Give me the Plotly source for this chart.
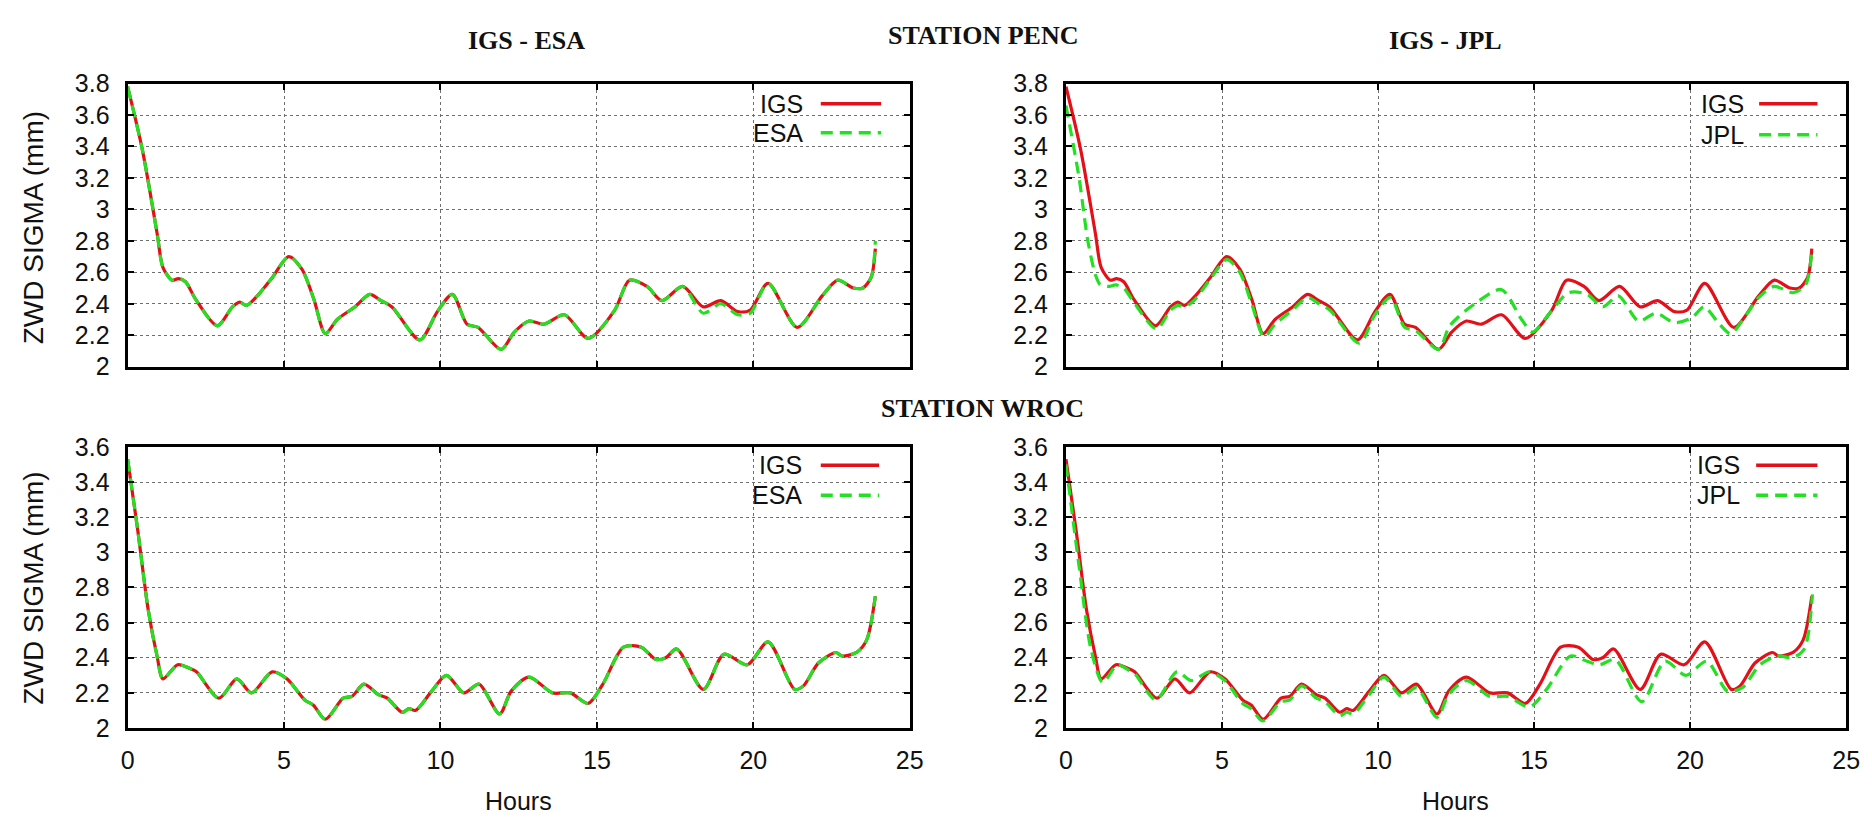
import plotly.graph_objects as go

# ---------------- data ----------------
penc_hours = [0.0, 0.47, 0.94, 1.13, 1.42, 1.62, 1.85, 2.17, 2.87, 3.35, 3.58, 3.8, 4.1, 4.6,
              5.15, 5.57, 5.95, 6.32, 6.7, 7.26, 7.74, 8.1, 8.45, 9.34, 9.9, 10.38, 10.85,
              11.2, 11.94, 12.36, 12.83, 13.3, 13.96, 14.72, 15.57, 16.04, 16.6, 17.08,
              17.74, 18.4, 18.96, 19.5, 19.9, 20.47, 21.4, 22.2, 22.7, 23.2, 23.5, 23.77, 23.9]
penc_igs = [3.78, 3.38, 2.85, 2.63, 2.55, 2.56, 2.54, 2.43, 2.26, 2.38, 2.41, 2.39, 2.44, 2.56,
            2.70, 2.62, 2.43, 2.21, 2.30, 2.38, 2.46, 2.42, 2.38, 2.17, 2.35, 2.46, 2.27,
            2.25, 2.11, 2.22, 2.29, 2.27, 2.33, 2.18, 2.36, 2.55, 2.51, 2.42,
            2.51, 2.38, 2.42, 2.35, 2.36, 2.53, 2.25, 2.45, 2.55, 2.50, 2.50, 2.57, 2.75]
penc_esa = [3.78, 3.38, 2.85, 2.63, 2.55, 2.56, 2.54, 2.43, 2.26, 2.38, 2.41, 2.39, 2.44, 2.56,
            2.70, 2.62, 2.43, 2.21, 2.30, 2.38, 2.46, 2.42, 2.38, 2.17, 2.35, 2.46, 2.27,
            2.25, 2.11, 2.22, 2.29, 2.27, 2.33, 2.18, 2.36, 2.55, 2.51, 2.42,
            2.51, 2.34, 2.40, 2.33, 2.34, 2.53, 2.25, 2.45, 2.55, 2.50, 2.50, 2.57, 2.80]
penc_jpl_hours = [0.0, 0.42, 0.7, 0.95, 1.1, 1.36, 1.6, 1.85, 2.17, 2.9, 3.35, 3.6, 3.8, 4.1,
                  4.6, 5.15, 5.57, 5.95, 6.35, 6.7, 7.26, 7.74, 8.1, 8.45, 9.4, 9.9, 10.4,
                  10.85, 11.2, 11.94, 12.3, 13.1, 13.95, 14.6, 14.95, 15.5, 16.1, 16.7, 17.2,
                  17.7, 18.35, 18.9, 19.5, 20.05, 20.45, 20.9, 21.3, 21.8, 22.2, 22.7, 23.3,
                  23.7, 23.9]
penc_jpl = [3.66, 3.20, 2.80, 2.58, 2.52, 2.51, 2.52, 2.50, 2.41, 2.24, 2.36, 2.39, 2.38, 2.42,
            2.55, 2.68, 2.60, 2.40, 2.19, 2.27, 2.36, 2.44, 2.40, 2.36, 2.15, 2.33, 2.44,
            2.25, 2.23, 2.11, 2.26, 2.40, 2.49, 2.30, 2.22, 2.34, 2.47, 2.46, 2.38,
            2.45, 2.29, 2.34, 2.28, 2.31, 2.38, 2.28, 2.21, 2.33, 2.44, 2.51, 2.47,
            2.52, 2.74]

wroc_hours = [0.0, 0.32, 0.66, 0.94, 1.13, 1.6, 1.98, 2.2, 2.92, 3.49, 3.96, 4.62, 5.09, 5.66,
              5.94, 6.32, 6.89, 7.17, 7.55, 8.02, 8.3, 8.77, 9.0, 9.2, 9.72, 10.19, 10.75,
              11.23, 11.89, 12.26, 12.83, 13.58, 14.15, 14.72, 15.19, 15.85, 16.42, 16.89,
              17.2, 17.55, 18.4, 19.06, 19.81, 20.47, 21.32, 21.6, 22.08, 22.64, 22.83, 23.3,
              23.62, 23.9]
wroc_igs = [3.53, 3.13, 2.67, 2.41, 2.28, 2.36, 2.34, 2.32, 2.17, 2.28, 2.20, 2.32, 2.28, 2.16,
            2.13, 2.05, 2.17, 2.18, 2.25, 2.19, 2.17, 2.09, 2.11, 2.10, 2.21, 2.30, 2.20,
            2.25, 2.08, 2.21, 2.29, 2.20, 2.20, 2.14, 2.25, 2.46, 2.46, 2.39,
            2.40, 2.45, 2.22, 2.42, 2.36, 2.49, 2.22, 2.24, 2.37, 2.43, 2.41, 2.43,
            2.50, 2.75]
wroc_esa = [3.53, 3.13, 2.67, 2.41, 2.28, 2.36, 2.34, 2.32, 2.17, 2.28, 2.20, 2.32, 2.28, 2.16,
            2.13, 2.05, 2.17, 2.18, 2.25, 2.19, 2.17, 2.09, 2.11, 2.10, 2.21, 2.30, 2.20,
            2.25, 2.08, 2.21, 2.29, 2.20, 2.20, 2.14, 2.25, 2.46, 2.46, 2.39,
            2.40, 2.45, 2.22, 2.42, 2.36, 2.49, 2.22, 2.24, 2.37, 2.43, 2.41, 2.43,
            2.50, 2.75]
wroc_jpl_hours = [0.0, 0.42, 0.8, 1.18, 1.65, 2.0, 2.2, 2.88, 3.55, 4.02, 4.59, 5.09, 5.66,
                  5.94, 6.3, 6.89, 7.17, 7.55, 8.02, 8.3, 8.77, 9.0, 9.2, 9.72, 10.19, 10.75,
                  11.23, 11.89, 12.26, 12.83, 13.58, 14.15, 14.85, 15.4, 16.17, 16.7, 17.1,
                  17.6, 18.45, 19.2, 19.87, 20.53, 21.2, 21.67, 22.24, 22.8, 23.28, 23.66, 23.92]
wroc_jpl = [3.50, 2.92, 2.45, 2.26, 2.36, 2.33, 2.31, 2.16, 2.32, 2.27, 2.32, 2.27, 2.14,
            2.11, 2.04, 2.15, 2.16, 2.24, 2.17, 2.15, 2.07, 2.09, 2.08, 2.19, 2.29, 2.18,
            2.23, 2.06, 2.19, 2.27, 2.18, 2.18, 2.12, 2.22, 2.41, 2.38, 2.36,
            2.39, 2.15, 2.38, 2.30, 2.38, 2.21, 2.23, 2.36, 2.41, 2.40, 2.45, 2.76]

x_ticks = [0, 5, 10, 15, 20, 25]
top_y_range = [2.0, 3.8]
bottom_y_range = [2.0, 3.6]

RED = "#e3101a"
GREEN = "#22e022"

W, H = 1872, 829


def px(x):
    return x / W


def py(y):
    return 1 - y / H


# panel pixel boxes: (left, right, top, bottom)
panels = {
    1: (122, 913, 72, 365),
    2: (1071, 1860, 72, 365),
    3: (122, 913, 448, 739),
    4: (1071, 1860, 448, 739),
}

fig = go.Figure()

series = [
    (1, penc_hours, penc_igs, penc_hours, penc_esa, "ESA"),
    (2, penc_hours, penc_igs, penc_jpl_hours, penc_jpl, "JPL"),
    (3, wroc_hours, wroc_igs, wroc_hours, wroc_esa, "ESA"),
    (4, wroc_hours, wroc_igs, wroc_jpl_hours, wroc_jpl, "JPL"),
]

DASH = "12px,7px"
for k, hx, hy, cx, cy, cname in series:
    xa = "x" if k == 1 else f"x{k}"
    ya = "y" if k == 1 else f"y{k}"
    fig.add_trace(go.Scatter(x=hx, y=hy, mode="lines", name="IGS", xaxis=xa, yaxis=ya,
                             line=dict(color=RED, width=3.2, shape="spline", smoothing=0.8),
                             showlegend=False))
    fig.add_trace(go.Scatter(x=cx, y=cy, mode="lines", name=cname, xaxis=xa, yaxis=ya,
                             line=dict(color=GREEN, width=3.2, shape="spline", smoothing=0.8,
                                       dash=DASH),
                             showlegend=False))

SANS = "Liberation Sans, Arial, sans-serif"
TICKFONT = dict(family=SANS, size=25, color="#111")

layout = dict(width=W, height=H, margin=dict(l=0, r=0, t=0, b=0),
              paper_bgcolor="white", plot_bgcolor="white", showlegend=False)

GRID = dict(showgrid=True, gridcolor="#6f6f6f", gridwidth=1, griddash="dot")
for k, (l, r, t, b) in panels.items():
    xs = "xaxis" if k == 1 else f"xaxis{k}"
    ys = "yaxis" if k == 1 else f"yaxis{k}"
    ya = "y" if k == 1 else f"y{k}"
    xa = "x" if k == 1 else f"x{k}"
    bottom = k in (3, 4)
    layout[xs] = dict(domain=[px(l), px(r)], anchor=ya, range=[0, 25], tickvals=x_ticks,
                      showticklabels=bottom, ticks="inside", ticklen=6, tickwidth=1.5,
                      tickcolor="black", showline=True, linewidth=3, linecolor="black",
                      mirror="allticks", zeroline=False, tickfont=TICKFONT,
                      ticklabelstandoff=8, **GRID)
    yr = bottom_y_range if bottom else top_y_range
    layout[ys] = dict(domain=[py(b), py(t)], anchor=xa, range=yr, dtick=0.2, tick0=2.0,
                      ticks="inside", ticklen=6, tickwidth=1.5, tickcolor="black",
                      showline=True, linewidth=3, linecolor="black", mirror="allticks",
                      zeroline=False, tickfont=TICKFONT, ticklabelstandoff=10, **GRID)

fig.update_layout(**layout)

annotations = []
shapes = []
TITLEFONT = dict(family="Liberation Serif, Times New Roman, serif", size=26, color="#111")
for text, x, y in [("IGS - ESA", 525, 27), ("STATION PENC", 987, 22),
                   ("IGS - JPL", 1455, 27), ("STATION WROC", 987, 408)]:
    annotations.append(dict(text=f"<b>{text}</b>", x=px(x), y=py(y), xref="paper", yref="paper",
                            xanchor="center", yanchor="middle", showarrow=False, font=TITLEFONT))

LABELFONT = dict(family=SANS, size=28, color="#111")
for y in (221, 594):
    annotations.append(dict(text="ZWD SIGMA (mm)", x=px(27), y=py(y), xref="paper", yref="paper",
                            xanchor="center", yanchor="middle", textangle=-90, showarrow=False,
                            font=LABELFONT))
for x in (517, 1465):
    annotations.append(dict(text="Hours", x=px(x), y=py(814), xref="paper", yref="paper",
                            xanchor="center", yanchor="middle", showarrow=False,
                            font=dict(family=SANS, size=25, color="#111")))

# gnuplot-style key: label then line sample
legend_spec = {
    1: (807, 823, 884, 93, 123, "ESA"),
    2: (1759, 1772, 1831, 93, 125, "JPL"),
    3: (806, 823, 882, 467, 498, "ESA"),
    4: (1755, 1769, 1831, 467, 498, "JPL"),
}
for k, (tx, l0, l1, r1, r2, cname) in legend_spec.items():
    shapes.append(dict(type="rect", xref="paper", yref="paper", x0=px(tx - 55), x1=px(l1 + 12),
                       y0=py(r2 + 26), y1=py(r1 - 19), fillcolor="white", line=dict(width=0),
                       layer="between"))
    for name, ry, color, dash in (("IGS", r1, RED, "solid"), (cname, r2, GREEN, DASH)):
        annotations.append(dict(text=name, x=px(tx), y=py(ry), xref="paper", yref="paper",
                                xanchor="right", yanchor="middle", showarrow=False,
                                font=TICKFONT))
        shapes.append(dict(type="line", xref="paper", yref="paper", x0=px(l0), x1=px(l1),
                           y0=py(ry), y1=py(ry), line=dict(color=color, width=3.5, dash=dash)))

fig.update_layout(annotations=annotations, shapes=shapes)
fig.write_html("out.html")
